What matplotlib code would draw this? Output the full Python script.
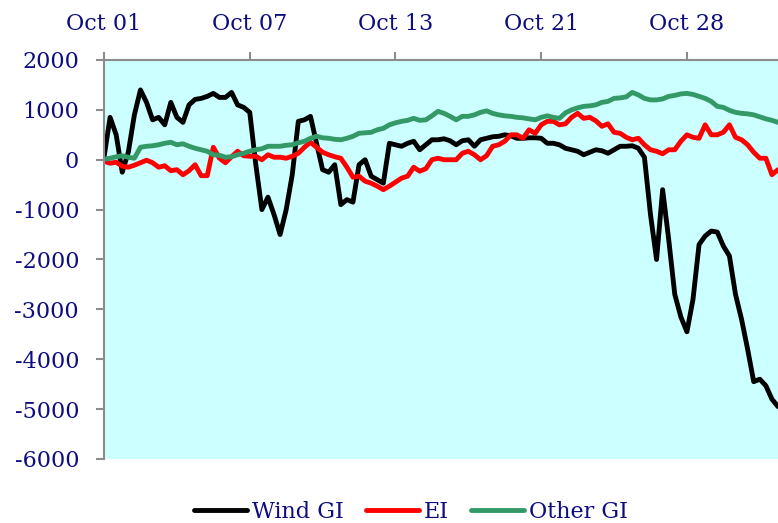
import numpy as np
import matplotlib
matplotlib.use("Agg")
import matplotlib.pyplot as plt

plt.rcParams['axes.unicode_minus'] = False

# tick labels along the top axis (one every 24 samples)
date_labels = ['Oct 01', 'Oct 07', 'Oct 13', 'Oct 21', 'Oct 28']
label_every = 24

wind_gi = [50, 850, 500, -250, 150, 900, 1400, 1150, 800, 850,
           700, 1150, 850, 750, 1100, 1210, 1230, 1270, 1330, 1250,
           1250, 1350, 1100, 1050, 950, -100, -1000, -750, -1100, -1500,
           -1000, -300, 770, 800, 870, 330, -200, -250, -100, -900,
           -800, -850, -100, 0, -330, -400, -470, 330, 300, 270,
           330, 370, 200, 300, 400, 400, 420, 380, 300, 380,
           400, 270, 400, 430, 460, 470, 500, 480, 430, 430,
           440, 440, 430, 330, 330, 300, 230, 200, 170, 100,
           150, 200, 180, 130, 200, 270, 270, 280, 230, 50,
           -1100, -2000, -600, -1600, -2700, -3150, -3450, -2800, -1700, -1530,
           -1430, -1450, -1730, -1930, -2700, -3200, -3800, -4450, -4400, -4530,
           -4800, -4950]

ei = [-30, -70, -50, -130, -150, -110, -60, -10, -60, -150,
      -120, -220, -200, -300, -220, -100, -320, -320, 250, 30,
      -60, 60, 170, 80, 70, 70, 0, 100, 50, 50,
      30, 70, 130, 250, 350, 250, 150, 100, 60, 30,
      -150, -350, -330, -430, -470, -530, -600, -530, -450, -370,
      -330, -150, -230, -180, 0, 30, 0, 0, 0, 130,
      170, 100, 0, 80, 270, 300, 370, 500, 500, 430,
      600, 530, 700, 770, 770, 700, 720, 850, 930, 830,
      850, 780, 670, 720, 550, 530, 450, 400, 430, 300,
      200, 170, 120, 200, 200, 370, 500, 450, 430, 700,
      500, 500, 550, 700, 450, 400, 300, 150, 30, 30,
      -300, -200]

other_gi = [10, 30, 60, 80, 50, 30, 250, 270, 280, 300,
            330, 350, 300, 320, 270, 230, 200, 170, 100, 90,
            50, 60, 100, 130, 170, 200, 220, 270, 270, 270,
            290, 300, 340, 370, 430, 470, 440, 430, 410, 400,
            430, 470, 530, 540, 550, 600, 630, 700, 740, 770,
            790, 830, 790, 800, 880, 970, 930, 870, 800, 870,
            870, 900, 950, 980, 930, 900, 880, 870, 850, 840,
            820, 800, 850, 880, 850, 830, 940, 1000, 1040, 1070,
            1080, 1100, 1150, 1170, 1230, 1240, 1260, 1350, 1300, 1230,
            1200, 1200, 1220, 1270, 1290, 1320, 1330, 1310, 1270, 1230,
            1170, 1070, 1050, 990, 950, 930, 920, 900, 860, 820,
            790, 750]

navy = '#0d0d80'
x = np.arange(len(wind_gi))

fig = plt.figure(figsize=(7.78, 5.23), dpi=100)
ax = fig.add_axes([0.1337, 0.1224, 0.8663, 0.7629])
ax.set_facecolor('#ccffff')

ax.plot(x, wind_gi, color='black', lw=3.5, label='Wind GI', solid_capstyle='round')
ax.plot(x, ei, color='#ff0000', lw=3.5, label='EI', solid_capstyle='round')
ax.plot(x, other_gi, color='#339966', lw=3.5, label='Other GI', solid_capstyle='round')

ax.set_xlim(0, 111)
ax.set_ylim(-6000, 2000)
ax.set_yticks(np.arange(-6000, 2001, 1000))
ax.set_xticks(np.arange(len(date_labels)) * label_every)
ax.set_xticklabels(date_labels)

ax.xaxis.tick_top()
for s in ['bottom', 'right']:
    ax.spines[s].set_visible(False)
for s in ['left', 'top']:
    ax.spines[s].set_color('#8c8c8c')
    ax.spines[s].set_linewidth(1.5)

ax.tick_params(axis='both', direction='out', length=6, width=1.5, color='#8c8c8c',
               labelsize=16, labelcolor=navy, pad=12)
for lab in ax.get_xticklabels() + ax.get_yticklabels():
    lab.set_family('DejaVu Serif')

leg = ax.legend(loc='upper center', bbox_to_anchor=(0.455, -0.055), ncol=3, frameon=False,
                handlelength=2.4, handletextpad=0.2, columnspacing=1.0,
                prop={'family': 'DejaVu Serif', 'size': 16})
for t in leg.get_texts():
    t.set_color(navy)

fig.savefig('out.png', dpi=100)
